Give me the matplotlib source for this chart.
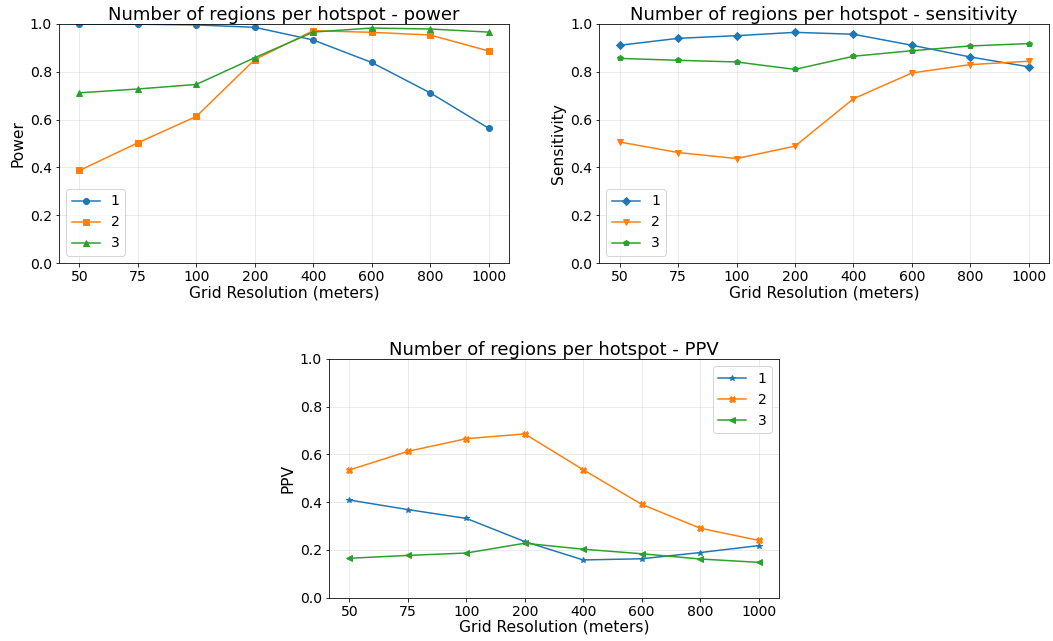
import matplotlib
matplotlib.use("Agg")
import matplotlib.pyplot as plt

# grid resolutions (categorical x axis)
resolutions = ["50", "75", "100", "200", "400", "600", "800", "1000"]
series_names = ["1", "2", "3"]

power_1 = [1.0, 0.999, 0.996, 0.986, 0.933, 0.839, 0.712, 0.564]
power_2 = [0.387, 0.503, 0.613, 0.851, 0.972, 0.965, 0.954, 0.887]
power_3 = [0.712, 0.728, 0.747, 0.859, 0.966, 0.983, 0.979, 0.966]

sens_1 = [0.911, 0.940, 0.951, 0.965, 0.957, 0.911, 0.862, 0.821]
sens_2 = [0.506, 0.462, 0.437, 0.489, 0.687, 0.795, 0.830, 0.844]
sens_3 = [0.856, 0.848, 0.841, 0.810, 0.865, 0.888, 0.908, 0.918]

ppv_1 = [0.409, 0.369, 0.332, 0.235, 0.158, 0.163, 0.189, 0.218]
ppv_2 = [0.535, 0.613, 0.666, 0.686, 0.536, 0.391, 0.291, 0.240]
ppv_3 = [0.165, 0.177, 0.187, 0.228, 0.203, 0.184, 0.162, 0.148]

plt.rcParams["font.size"] = 14
plt.rcParams["xtick.labelsize"] = 14
plt.rcParams["ytick.labelsize"] = 14

fig = plt.figure(figsize=(1053 / 72, 641 / 72), dpi=72)
ax_pow = fig.add_axes([0.056, 0.5897, 0.4274, 0.3729])
ax_sens = fig.add_axes([0.5693, 0.5897, 0.4269, 0.3729])
ax_ppv = fig.add_axes([0.3124, 0.0676, 0.4274, 0.3724])


def draw(ax, data, markers, title, ylabel, legend_loc):
    x = list(range(len(resolutions)))
    for vals, m, name in zip(data, markers, series_names):
        ax.plot(x, vals, marker=m, label=name)
    ax.set_xticks(x)
    ax.set_xticklabels(resolutions)
    ax.set_ylim(0, 1)
    ax.set_title(title, fontsize=18, pad=2)
    ax.set_xlabel("Grid Resolution (meters)", fontsize=15.5, labelpad=1)
    ax.set_ylabel(ylabel, fontsize=15.5)
    ax.grid(alpha=0.3)
    ax.legend(loc=legend_loc, fontsize=14)


draw(ax_pow, [power_1, power_2, power_3], ["o", "s", "^"],
     "Number of regions per hotspot - power", "Power", "lower left")
draw(ax_sens, [sens_1, sens_2, sens_3], ["D", "v", "p"],
     "Number of regions per hotspot - sensitivity", "Sensitivity", "lower left")
draw(ax_ppv, [ppv_1, ppv_2, ppv_3], ["*", "X", "<"],
     "Number of regions per hotspot - PPV", "PPV", "upper right")

fig.savefig("out.png", dpi=72)
